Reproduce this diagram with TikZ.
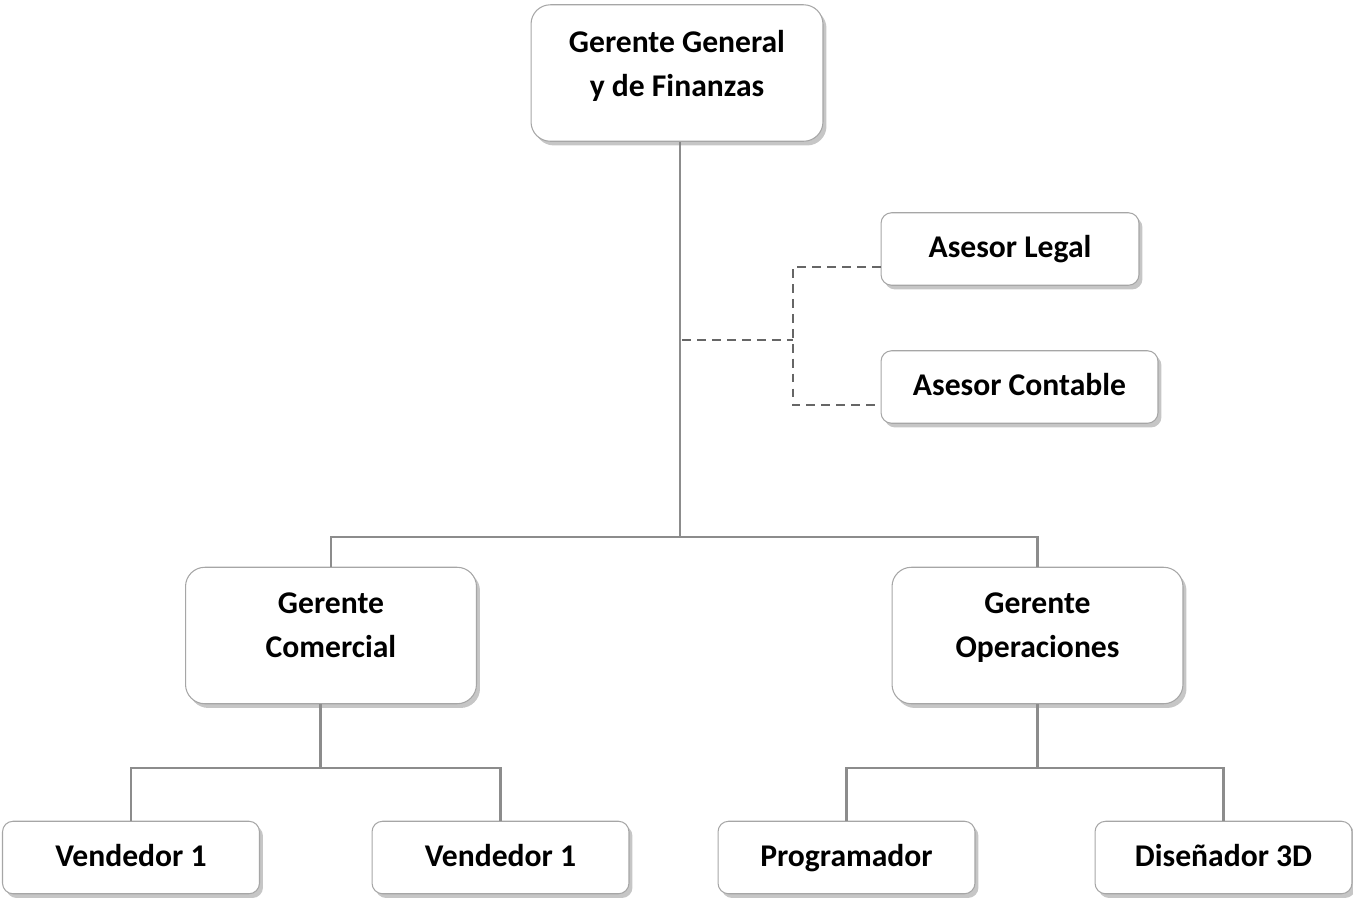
\documentclass[tikz,border=0pt]{standalone}
\usepackage{fontspec}
\setmainfont{Carlito}
\usetikzlibrary{positioning, calc, shadows}
\definecolor{borde}{HTML}{A6A6A6}
\definecolor{linea}{HTML}{8C8C8C}
\definecolor{guion}{HTML}{666666}
\tikzset{
  every picture/.style={font=\fontsize{18}{25}\selectfont\bfseries},
  caja/.style={draw=borde, line width=0.6pt, fill=white, align=center, inner sep=2pt,
               drop shadow={shadow xshift=2pt, shadow yshift=-2.4pt, opacity=0.45}},
  cajag/.style={caja, rounded corners=11pt, minimum width=5.82cm, minimum height=2.73cm, text depth=0.4cm},
  cajap/.style={caja, rounded corners=6pt, minimum width=5.14cm, minimum height=1.45cm,
                text height=13pt, text depth=3pt},
  conector/.style={draw=linea, line width=1.3pt},
  conectord/.style={draw=guion, line width=1.4pt, dash pattern=on 5pt off 3.5pt},
}

\begin{document}
\begin{tikzpicture}[x=0.02cm, y=-0.02cm]
  \useasboundingbox (0,0) rectangle (1353,897);
  % niveles de las lineas
  \coordinate (nivel1) at (0,537);
  \coordinate (nivel2) at (0,768);
  \coordinate (asesores) at (0,340);
  \coordinate (codo) at (793,340);
  % conectores
  \draw[conector] (680,141) -- (680,537);
  \node[cajag, minimum width=5.84cm] (GG) at (677,73) {Gerente General\\y de Finanzas};
  \node[cajap, minimum width=5.16cm] (AL) at (1010,249) {Asesor Legal};
  \node[cajap, minimum width=5.54cm] (AC) at (1019.5,387) {Asesor Contable};
  \node[cajag] (GC) at (331,635.5) {Gerente\\Comercial};
  \node[cajag] (GO) at (1037.5,635.5) {Gerente\\Operaciones};
  \node[cajap] (V1) at (131,857.5) {Vendedor 1};
  \node[cajap] (V2) at (500.5,857.5) {Vendedor 1};
  \node[cajap] (PR) at (846.5,857.5) {Programador};
  \node[cajap] (D3) at (1223.5,857.5) {Diseñador 3D};
  \draw[conectord] ([xshift=3pt]GG.south |- asesores) -- (codo);
  \draw[conectord] ($(AL.west)+(0,18)$) -| (codo) |- ($(AC.west)+(0,18)$);
  \draw[conector] (GC.north) |- ([xshift=3pt]GG.south |- nivel1) -| (GO.north);
  \draw[conector] ([xshift=-6pt]GC.south) -- ([xshift=-6pt]GC.south |- nivel2);
  \draw[conector] (V1.north) |- ([xshift=-6pt]GC.south |- nivel2) -| (V2.north);
  \draw[conector] (GO.south) -- (GO.south |- nivel2);
  \draw[conector] (PR.north) |- (GO.south |- nivel2) -| (D3.north);
\end{tikzpicture}
\end{document}
